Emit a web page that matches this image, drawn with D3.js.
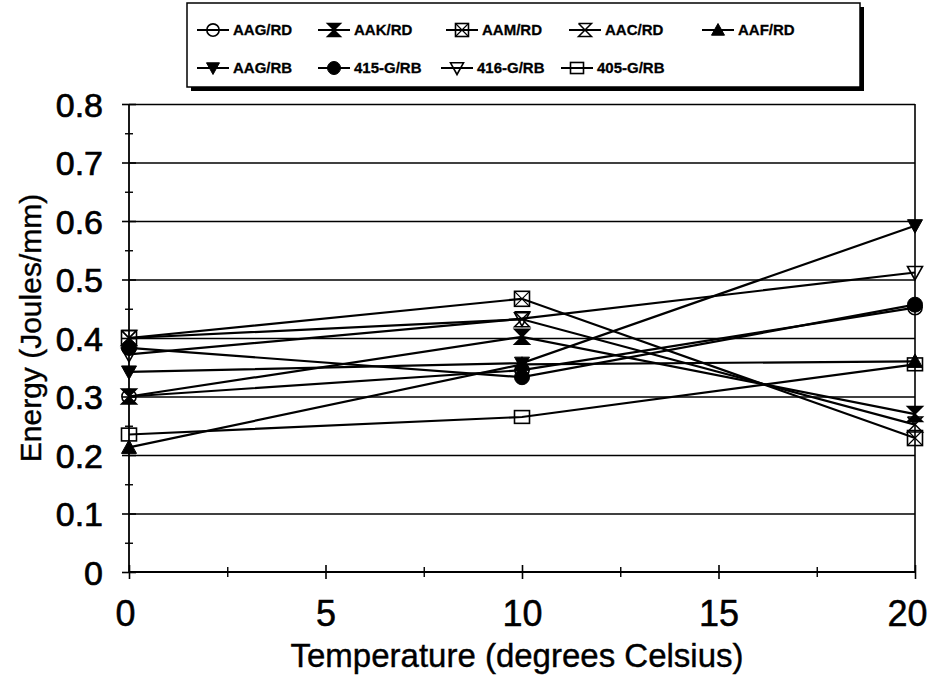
<!DOCTYPE html>
<html><head><meta charset="utf-8">
<script src="https://cdnjs.cloudflare.com/ajax/libs/d3/7.8.5/d3.min.js"></script>
<style>
body{margin:0;background:#fff;}
svg{display:block;font-family:"Liberation Sans",Arial,sans-serif;}
</style></head>
<body>
<svg id="chart" width="936" height="686"></svg>
<script>
const temperatures = [0, 10, 20];
const seriesNames = ["AAG/RD","AAK/RD","AAM/RD","AAC/RD","AAF/RD","AAG/RB","415-G/RB","416-G/RB","405-G/RB"];
const AAG_RD  = [0.300, 0.345, 0.452];
const AAK_RD  = [0.300, 0.402, 0.270];
const AAM_RD  = [0.400, 0.467, 0.229];
const AAC_RD  = [0.400, 0.432, 0.252];
const AAF_RD  = [0.213, 0.355, 0.360];
const AAG_RB  = [0.342, 0.357, 0.592];
const G415_RB = [0.383, 0.333, 0.457];
const G416_RB = [0.372, 0.433, 0.512];
const G405_RB = [0.235, 0.265, 0.355];
const seriesValues = [AAG_RD, AAK_RD, AAM_RD, AAC_RD, AAF_RD, AAG_RB, G415_RB, G416_RB, G405_RB];
const markerTypes = ["circleOpen","hourglassFilled","squareX","hourglassOpen","triUpFilled","triDownFilled","circleFilled","triDownOpen","squareOpen"];
const yTickValues = [0,0.1,0.2,0.3,0.4,0.5,0.6,0.7,0.8];
const xTickValues = [0,5,10,15,20];
const xAxisTitle = "Temperature (degrees Celsius)";
const yAxisTitle = "Energy (Joules/mm)";

const svg = d3.select("#chart");
const L = 129, R = 915, T = 104, B = 572;
const x = d3.scaleLinear().domain([0,20]).range([L,R]);
const y = d3.scaleLinear().domain([0,0.8]).range([B,T]);

// gridlines
svg.append("g").attr("transform",`translate(${L},0)`)
  .call(d3.axisLeft(y).tickValues(yTickValues.slice(1)).tickSize(-(R-L)).tickFormat(""))
  .call(g=>{g.select(".domain").remove(); g.selectAll("line").attr("stroke","#000").attr("stroke-width",1.6);});

// right border
svg.append("line").attr("x1",R).attr("x2",R).attr("y1",T).attr("y2",B).attr("stroke","#000").attr("stroke-width",1.6);

// y axis
const yAx = svg.append("g").attr("transform",`translate(${L},0)`)
  .call(d3.axisLeft(y).tickValues(yTickValues).tickSize(7).tickPadding(18).tickFormat(d=>d===0?"0":d.toFixed(1)));
yAx.select(".domain").attr("stroke","#000").attr("stroke-width",1.8).attr("d",`M0,${B}V${T}`);
yAx.selectAll(".tick line").attr("x1",-7).attr("x2",7).attr("stroke","#000").attr("stroke-width",1.6);
yAx.selectAll(".tick text").attr("font-size",34).attr("fill","#000").attr("stroke","#000").attr("stroke-width",0.7)
  .attr("x",-26).attr("dy","0.36em");
// y minor ticks
const yMinor = d3.range(0.05,0.8,0.1);
svg.append("g").attr("transform",`translate(${L},0)`)
  .call(d3.axisLeft(y).tickValues(yMinor).tickSize(4).tickFormat(""))
  .call(g=>{g.select(".domain").remove(); g.selectAll("line").attr("x1",-4).attr("x2",4).attr("stroke","#000").attr("stroke-width",1.4);});

// x axis
const xAx = svg.append("g").attr("transform",`translate(0,${B})`)
  .call(d3.axisBottom(x).tickValues(xTickValues).tickSize(7).tickFormat(d3.format("d")));
xAx.select(".domain").attr("stroke","#000").attr("stroke-width",1.8).attr("d",`M${L},0H${R}`);
xAx.selectAll(".tick line").attr("y1",-7).attr("y2",7).attr("stroke","#000").attr("stroke-width",1.6);
xAx.selectAll(".tick text").attr("font-size",36).attr("fill","#000").attr("stroke","#000").attr("stroke-width",0.5)
  .attr("y",41).attr("dy","0.36em");
xAx.selectAll(".tick").filter(d=>d===20).select("text").attr("x",-8);
xAx.selectAll(".tick").filter(d=>d===0).select("text").attr("x",-4);
const xMinor = [2.5,7.5,12.5,17.5];
svg.append("g").attr("transform",`translate(0,${B})`)
  .call(d3.axisBottom(x).tickValues(xMinor).tickSize(4).tickFormat(""))
  .call(g=>{g.select(".domain").remove(); g.selectAll("line").attr("y1",-5).attr("y2",5).attr("stroke","#000").attr("stroke-width",1.4);});

// axis titles
svg.append("text").attr("x",517).attr("y",655).attr("dy","0.36em").attr("text-anchor","middle")
  .attr("font-size",33).attr("fill","#000").attr("stroke","#000").attr("stroke-width",0.4).text(xAxisTitle);
svg.append("text").attr("transform","translate(30,328) rotate(-90)").attr("dy","0.36em").attr("text-anchor","middle")
  .attr("font-size",30).attr("fill","#000").attr("stroke","#000").attr("stroke-width",0.4).text(yAxisTitle);

// marker drawing
function drawMarker(g, type, cx, cy, s){
  const h = s/2;
  const black="#000";
  if(type==="circleOpen"){
    g.append("circle").attr("cx",cx).attr("cy",cy).attr("r",h*0.95).attr("fill","none").attr("stroke",black).attr("stroke-width",1.6);
  } else if(type==="circleFilled"){
    g.append("circle").attr("cx",cx).attr("cy",cy).attr("r",h).attr("fill",black).attr("stroke",black);
  } else if(type==="squareOpen"){
    g.append("rect").attr("x",cx-h).attr("y",cy-h*0.85).attr("width",s).attr("height",s*0.85).attr("fill","none").attr("stroke",black).attr("stroke-width",1.6);
  } else if(type==="squareX"){
    g.append("rect").attr("x",cx-h).attr("y",cy-h).attr("width",s).attr("height",s).attr("fill","none").attr("stroke",black).attr("stroke-width",1.6);
    g.append("path").attr("d",`M${cx-h},${cy-h}L${cx+h},${cy+h}M${cx+h},${cy-h}L${cx-h},${cy+h}`).attr("stroke",black).attr("stroke-width",1.2);
  } else if(type==="triUpFilled"){
    g.append("path").attr("d",`M${cx},${cy-h}L${cx+h},${cy+h*0.8}L${cx-h},${cy+h*0.8}Z`).attr("fill",black).attr("stroke",black);
  } else if(type==="triDownFilled"){
    g.append("path").attr("d",`M${cx},${cy+h}L${cx+h},${cy-h*0.8}L${cx-h},${cy-h*0.8}Z`).attr("fill",black).attr("stroke",black);
  } else if(type==="triDownOpen"){
    g.append("path").attr("d",`M${cx},${cy+h}L${cx+h},${cy-h*0.8}L${cx-h},${cy-h*0.8}Z`).attr("fill","none").attr("stroke",black).attr("stroke-width",1.6);
  } else if(type==="hourglassFilled"){
    g.append("path").attr("d",`M${cx-h},${cy-h}L${cx+h},${cy-h}L${cx},${cy}Z M${cx-h},${cy+h}L${cx+h},${cy+h}L${cx},${cy}Z`).attr("fill",black).attr("stroke",black).attr("stroke-width",1.5);
  } else if(type==="hourglassOpen"){
    g.append("path").attr("d",`M${cx-h},${cy-h}L${cx+h},${cy-h}L${cx-h*0.2},${cy+h*0.2}M${cx+h*0.2},${cy-h*0.2}L${cx-h},${cy+h}L${cx+h},${cy+h}L${cx-h*0.2},${cy-h*0.2}M${cx+h*0.2},${cy+h*0.2}L${cx-h},${cy-h}`).attr("fill","none").attr("stroke",black).attr("stroke-width",1.5);
  }
}

// series lines
const line = d3.line().x((d,i)=>x(temperatures[i])).y(d=>y(d));
const plot = svg.append("g");
seriesValues.forEach(vals=>{
  plot.append("path").attr("d",line(vals)).attr("fill","none").attr("stroke","#000").attr("stroke-width",2.2);
});
seriesValues.forEach((vals,si)=>{
  vals.forEach((v,i)=>drawMarker(plot, markerTypes[si], x(temperatures[i]), y(v), 15));
});

// legend
const lg = svg.append("g");
lg.append("rect").attr("x",191).attr("y",7).attr("width",673).attr("height",84).attr("fill","#000");
lg.append("rect").attr("x",187).attr("y",3).attr("width",673).attr("height",84).attr("fill","#fff").attr("stroke","#000").attr("stroke-width",1.5);
const legendPos = [[213,30],[334,30],[462,30],[585,30],[718,30],[213,68],[334,68],[457,68],[577,68]];
seriesNames.forEach((n,i)=>{
  const [cx,cy]=legendPos[i];
  lg.append("line").attr("x1",cx-16).attr("x2",cx+16).attr("y1",cy).attr("y2",cy).attr("stroke","#000").attr("stroke-width",2);
  drawMarker(lg, markerTypes[i], cx, cy, 13);
  lg.append("text").attr("x",cx+20).attr("y",cy).attr("dy","0.36em").attr("font-size",15).attr("font-weight","bold")
    .attr("fill","#000").attr("stroke","#000").attr("stroke-width",0.3).text(n);
});
</script>
</body></html>
